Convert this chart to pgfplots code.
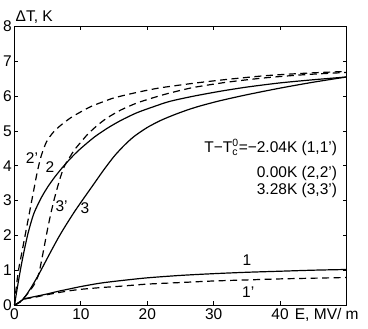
\documentclass[border=0pt]{standalone}
\usepackage{pgfplots}
\pgfplotsset{compat=1.18}
\usepackage{fontspec}
\setmainfont{Liberation Sans}

\pgfplotstableread{
E dT
0 0
0.5 0.05
1 0.12
1.5 0.18
2 0.2
3 0.24
4 0.28
5 0.32
6.5 0.39
8 0.45
10 0.53
13 0.63
16 0.7
20 0.78
25 0.85
30 0.9
35 0.94
40 0.97
45 1.0
50 1.02
}\curveA
\pgfplotstableread{
E dT
0 0
0.5 0.05
1 0.12
1.5 0.17
2 0.19
3 0.22
5 0.3
8 0.4
10 0.45
13 0.5
16 0.54
20 0.6
25 0.645
30 0.69
35 0.72
40 0.75
45 0.77
50 0.79
}\curveAp
\pgfplotstableread{
E dT
0 0
0.5 0.58
1 1.12
1.5 1.6
2 2.03
2.5 2.38
3 2.67
4 3.07
5 3.39
6 3.66
7 3.9
8 4.12
9 4.32
10 4.5
12 4.82
14 5.08
16 5.3
18.4 5.52
21 5.7
23.4 5.85
27 6.0
31 6.14
35 6.26
40 6.38
45 6.47
50 6.55
}\curveB
\pgfplotstableread{
E dT
0 0
0.2 0.4
0.6 1.0
1.1 1.5
1.6 2.0
2.1 2.5
2.6 3.0
3.0 3.4
3.3 3.7
3.7 4.05
4.1 4.33
4.8 4.68
5.7 4.93
6.7 5.12
8.4 5.37
10 5.55
11.5 5.7
13.5 5.85
15 5.95
16.9 6.04
19 6.13
22 6.24
27 6.37
32 6.48
38 6.59
44 6.66
50 6.71
}\curveBp
\pgfplotstableread{
E dT
0 0
0.8 0.08
1.6 0.24
2.5 0.5
3.6 0.86
4.6 1.22
5.6 1.58
6.6 1.93
7.6 2.25
9 2.67
10.3 3.03
12 3.49
13.4 3.87
15 4.27
16.5 4.58
18 4.84
20 5.1
22 5.3
24 5.46
26 5.6
28 5.72
31 5.87
35 6.04
40 6.23
45 6.4
50 6.55
}\curveC
\pgfplotstableread{
E dT
0 0
0.8 0.08
1.6 0.24
2.5 0.46
3 0.6
3.6 0.86
4 1.2
4.5 1.7
5 2.2
5.5 2.65
6 3.05
6.5 3.4
7 3.72
7.5 3.98
8 4.15
8.5 4.3
9 4.45
10 4.68
11 4.9
12 5.08
13 5.24
14 5.38
16 5.6
18.4 5.8
21 5.96
23.4 6.09
27 6.25
32 6.4
38 6.53
44 6.62
50 6.68
}\curveCp

\begin{document}
\fontsize{15.5}{18.6}\selectfont
\begin{tikzpicture}
\begin{axis}[
  scale only axis,
  width=332pt, height=278.5pt,
  xmin=0, xmax=50, ymin=0, ymax=8,
  xtick={0,10,20,30,40,50},
  xticklabels={0,10,20,30,40,},
  ytick={0,1,2,3,4,5,6,7,8},
  tick align=inside,
  major tick length=3.5pt,
  axis line style={line width=0.9pt},
  tick style={line width=0.8pt, black},
  /pgf/number format/assume math mode=true,
  tick label style={font=\fontsize{15.5}{18.6}\selectfont},
  xticklabel style={yshift=2pt},
  yticklabel style={xshift=2.5pt},
  clip=false,
]
\addplot[black, line width=1.2pt, no marks, smooth, tension=0.45] table[x=E,y=dT] {\curveA};
\addplot[black, line width=1.2pt, no marks, smooth, tension=0.45, dash pattern=on 7pt off 4.5pt] table[x=E,y=dT] {\curveAp};
\addplot[black, line width=1.2pt, no marks, smooth, tension=0.45] table[x=E,y=dT] {\curveB};
\addplot[black, line width=1.2pt, no marks, smooth, tension=0.45, dash pattern=on 7pt off 4.5pt] table[x=E,y=dT] {\curveBp};
\addplot[black, line width=1.2pt, no marks, smooth, tension=0.45] table[x=E,y=dT] {\curveC};
\addplot[black, line width=1.2pt, no marks, smooth, tension=0.45, dash pattern=on 7pt off 4.5pt] table[x=E,y=dT] {\curveCp};

\node at (axis cs:2.64,4.23) {2'};
\node at (axis cs:5.35,3.95) {2};
\node at (axis cs:7.1,2.85) {3'};
\node at (axis cs:10.6,2.78) {3};
\node at (axis cs:35,1.3) {1};
\node at (axis cs:35.2,0.36) {1'};

\node[anchor=base east, inner sep=0pt] at (axis cs:48.6,4.39) {T−T$^{\mbox{\fontsize{10.5}{12}\selectfont 0}}_{\mbox{\fontsize{10.5}{12}\selectfont c}}$=−2.04K (1,1')};
\node[anchor=base east, inner sep=0pt] at (axis cs:48.6,3.67) {0.00K (2,2')};
\node[anchor=base east, inner sep=0pt] at (axis cs:48.6,3.17) {3.28K (3,3')};

\node[anchor=base west, inner sep=0pt] at ([shift={(1pt,4.5pt)}]rel axis cs:0,1) {ΔT, K};
\node[anchor=base west, inner sep=0pt] at ([shift={(0pt,-14.3pt)}]axis cs:42.2,0) {E, MV/ m};
\end{axis}
\pgfresetboundingbox
\path ([shift={(-14.5pt,-24pt)}]current axis.south west) rectangle ([shift={(21.5pt,26.5pt)}]current axis.north east);
\end{tikzpicture}
\end{document}
